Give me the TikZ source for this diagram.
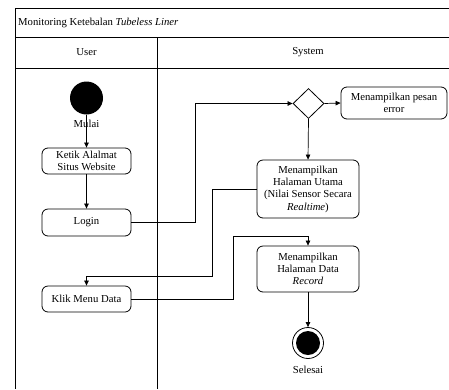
\documentclass[tikz,border=0pt]{standalone}
\usepackage{fontspec}
\setmainfont{Liberation Serif}
\usetikzlibrary{arrows.meta,shapes.geometric}
\tikzset{
  frameline/.style={line width=0.9pt},
  flow/.style={line width=0.7pt,-{Triangle[length=5pt,width=4.5pt]}},
  plain/.style={line width=0.7pt},
  actbox/.style={draw,line width=0.8pt,rounded corners=6pt,align=center,inner sep=1pt},
  lbl/.style={inner sep=0pt,align=center},
}
\begin{document}
\begin{tikzpicture}[x=1pt,y=-1pt,font=\fontsize{10.7}{12.3}\selectfont]
\useasboundingbox (0,0) rectangle (449,389);

% swimlane frame
\draw[frameline] (449,8) -- (15,8) -- (15,389);
\draw[frameline] (15,37.5) -- (449,37.5);
\draw[frameline] (15,68) -- (449,68);
\draw[frameline] (157,37.5) -- (157,389);

\node[lbl,anchor=west] (title) at (18,23) {Monitoring Ketebalan \textit{Tubeless Liner}};
\node[lbl] (laneuser) at (86.5,52.5) {User};
\node[lbl] (lanesys) at (308,52.5) {System};

% activities
\node[circle,fill=black,minimum size=33pt,inner sep=0pt] (start) at (86.5,98) {};
\node[actbox,minimum width=89pt,minimum height=26pt] (ketik) at (86.5,161) {Ketik Alalmat\\Situs Website};
\node[actbox,minimum width=89pt,minimum height=27pt] (login) at (86.5,222.5) {Login};
\node[actbox,minimum width=89pt,minimum height=26pt] (klik) at (86.5,299) {Klik Menu Data};

\node[diamond,draw,line width=0.8pt,inner sep=0pt,minimum width=31pt,minimum height=30pt] (dec) at (308.5,103.5) {};
\node[actbox,minimum width=106pt,minimum height=32pt] (err) at (394,103) {Menampilkan pesan\\error};
\node[actbox,minimum width=102pt,minimum height=58pt] (utama) at (308,189) {Menampilkan\\Halaman Utama\\(Nilai Sensor Secara\\\textit{Realtime})};
\node[actbox,minimum width=102pt,minimum height=46pt] (data) at (308,269) {Menampilkan\\Halaman Data\\\textit{Record}};

\node[circle,draw,line width=0.8pt,minimum size=31pt,inner sep=0pt] (end) at (308,343) {};
\node[circle,fill=black,minimum size=24pt,inner sep=0pt] (endin) at (308,343) {};

% bends of the routed connectors
\coordinate (b1) at (195,222.5);
\coordinate (b2) at (212.7,276);
\coordinate (b3) at (233,236);

% connectors
\draw[flow] (start) -- (ketik);
\draw[flow] (ketik) -- (login);
\draw[flow] (login.east) -- (b1) |- (dec.west);
\draw[flow] (dec.east) -- (err.west);
\draw[flow] (dec.south) -- (utama.north);
\draw[flow] (utama.west) -| (b2) -| (klik.north);
\draw[flow] (klik.east) -| (b3) -| (data.north);
\draw[flow] (data.south) -- (end.north);

\node[lbl] (mulai) at (86.5,123.5) {Mulai};
\node[lbl] (selesai) at (308,369.5) {Selesai};
\end{tikzpicture}
\end{document}
